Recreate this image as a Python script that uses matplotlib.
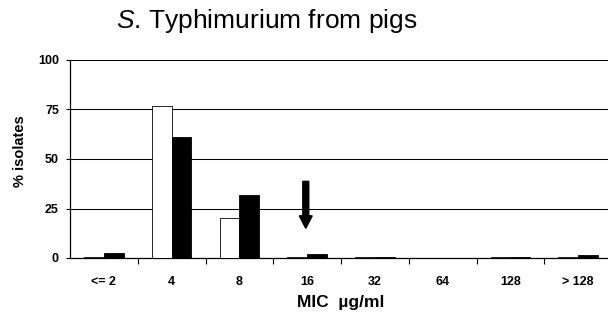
import matplotlib
matplotlib.use("Agg")
import matplotlib.pyplot as plt
import numpy as np

categories = ["<= 2", "4", "8", "16", "32", "64", "128", "> 128"]
white_pct = [0.3, 77, 20, 0.5, 0.5, 0, 0.5, 0.7]
black_pct = [2.5, 61, 32, 2.2, 0.6, 0, 0.6, 1.4]
y_ticks = [0, 25, 50, 75, 100]
breakpoint_idx = 3

plt.rcParams["font.family"] = ["Liberation Sans", "DejaVu Sans"]
plt.rcParams["mathtext.fontset"] = "custom"
plt.rcParams["mathtext.rm"] = "Liberation Sans"
plt.rcParams["mathtext.it"] = "Liberation Sans:italic"

fig = plt.figure(figsize=(6.08, 3.22), dpi=100)
ax = fig.add_axes([70 / 608, 64 / 322, 542 / 608, 198 / 322])

x = np.arange(len(categories)) + 0.5
w = 0.29
ax.bar(x - w / 2, white_pct, width=w, color="white", edgecolor="black",
       linewidth=0.6, zorder=3)
ax.bar(x + w / 2, black_pct, width=w, color="black", edgecolor="black",
       linewidth=0.6, zorder=3)

ax.set_xlim(0, len(categories))
ax.set_ylim(0, 100)
ax.set_yticks(y_ticks)
ax.set_yticklabels([str(t) for t in y_ticks], fontsize=9, fontweight="bold")
ax.yaxis.grid(True, color="black", linewidth=0.75)
ax.set_axisbelow(True)

ax.set_xticks(np.arange(1, len(categories)))
ax.set_xticklabels([])
ax.set_xticks(x, minor=True)
ax.set_xticklabels(categories, minor=True, fontsize=9, fontweight="bold")
ax.tick_params(axis="x", which="major", length=4, width=0.8, direction="out")
ax.tick_params(axis="x", which="minor", length=0, pad=13)
ax.tick_params(axis="y", length=3, width=0.8, pad=5)

for s in ["top", "right"]:
    ax.spines[s].set_visible(False)
for s in ["left", "bottom"]:
    ax.spines[s].set_linewidth(0.9)

fig.text(341 / 608, 1 - 302 / 322, "MIC  µg/ml", fontsize=12.5,
         fontweight="bold", ha="center", va="center")
fig.text(20 / 608, 1 - 151 / 322, "% isolates", fontsize=10.5,
         fontweight="bold", ha="center", va="center", rotation=90)

# breakpoint arrow
ax.arrow(breakpoint_idx + 0.48, 38.7, 0, -23.7, width=0.088, head_width=0.19,
         head_length=6.3, length_includes_head=True, color="black", zorder=4)

fig.text(267 / 608, 1 - 21 / 322, r"$\it{S}$. Typhimurium from pigs",
         fontsize=19, ha="center", va="center")

fig.savefig("out.png", dpi=100)
